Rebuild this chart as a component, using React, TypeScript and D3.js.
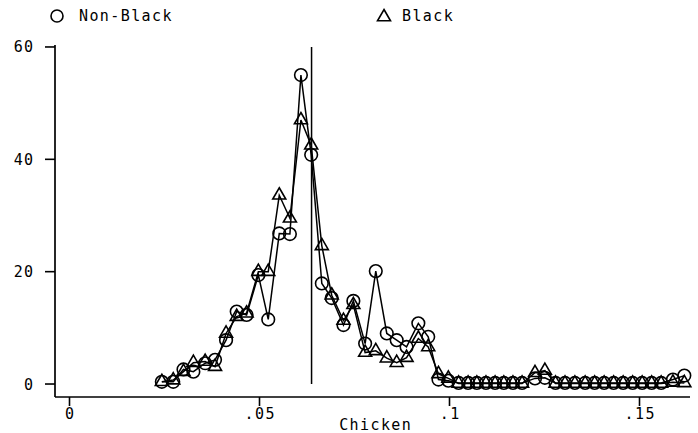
import React from "react";
import * as d3 from "d3";

// Share of chicken in the diet (x) and the percentage in each group (y)
const chicken = [
  0.0243, 0.0273, 0.03, 0.0326, 0.0357, 0.0383, 0.0412, 0.044, 0.0466, 0.0497,
  0.0523, 0.0552, 0.058, 0.0609, 0.0636, 0.0664, 0.069, 0.0721, 0.0747, 0.0778,
  0.0806, 0.0835, 0.0861, 0.0887, 0.0918, 0.0944, 0.0971, 0.0997, 0.1024, 0.1049,
  0.1072, 0.1096, 0.112, 0.1143, 0.1167, 0.1191, 0.1225, 0.1251, 0.1279, 0.1304,
  0.133, 0.1357, 0.1382, 0.1407, 0.1432, 0.1457, 0.1482, 0.1507, 0.1532, 0.1557,
  0.1588, 0.1618,
];

const nonBlack = [
  0.4, 0.4, 2.6, 2.2, 3.7, 4.3, 7.8, 12.9, 12.3, 19.4,
  11.5, 26.8, 26.7, 55.0, 40.8, 17.9, 15.3, 10.5, 14.8, 7.2,
  20.1, 9.0, 7.8, 6.6, 10.8, 8.4, 0.8, 0.6, 0.2, 0.2,
  0.2, 0.2, 0.2, 0.2, 0.2, 0.2, 1.0, 1.1, 0.2, 0.2,
  0.2, 0.2, 0.2, 0.2, 0.2, 0.2, 0.2, 0.2, 0.2, 0.2,
  0.8, 1.5,
];

const black = [
  0.4, 0.7, 2.2, 3.8, 4.0, 3.1, 9.0, 12.0, 12.6, 20.0,
  20.0, 33.6, 29.5, 47.0, 42.5, 24.6, 15.8, 11.3, 14.1, 5.6,
  5.9, 4.6, 3.8, 4.7, 8.1, 6.6, 1.8, 1.0, 0.1, 0.1,
  0.1, 0.1, 0.1, 0.1, 0.1, 0.1, 2.0, 2.4, 0.1, 0.1,
  0.1, 0.1, 0.1, 0.1, 0.1, 0.1, 0.1, 0.1, 0.1, 0.1,
  0.3, 0.2,
];

const xTicks = [0, 0.05, 0.1, 0.15];
const xTickLabels = ["0", ".05", ".1", ".15"];
const yTicks = [0, 20, 40, 60];
const referenceX = 0.0637;
const seriesNames = ["Non-Black", "Black"];
const xTitle = "Chicken";

const W = 698;
const H = 433;
const FONT = "'DejaVu Sans Mono', 'Liberation Mono', monospace";

const x = d3.scaleLinear().domain([-0.003816, 0.16329]).range([55, 690]);
const y = d3.scaleLinear().domain([-2.31, 60.35]).range([397, 45]);

const R = 6.3;
const triPath = (s: number) => {
  const h = (s * Math.sqrt(3)) / 2;
  return `M0,${-(2 * h) / 3}L${s / 2},${h / 3}L${-s / 2},${h / 3}Z`;
};
const TRI = triPath(13);

export default function App() {
  const line = d3
    .line<number>()
    .x((_, i) => x(chicken[i]))
    .y((d) => y(d));

  const textStyle = {
    fontFamily: FONT,
    fontSize: 15,
    letterSpacing: 1.4,
    fill: "#000",
  } as React.CSSProperties;

  return (
    <svg
      width={W}
      height={H}
      style={{ position: "absolute", left: 0, top: 0, background: "#fff" }}
    >
      <rect width={W} height={H} fill="#fff" />

      {/* legend */}
      <circle cx={57} cy={16} r={6} fill="none" stroke="#000" strokeWidth={1.6} />
      <text x={79} y={21} style={textStyle}>
        {seriesNames[0]}
      </text>
      <path d={TRI} transform="translate(384,17)" fill="none" stroke="#000" strokeWidth={1.6} />
      <text x={402} y={21} style={textStyle}>
        {seriesNames[1]}
      </text>

      {/* axes */}
      <line x1={55} x2={55} y1={y.range()[1]} y2={397} stroke="#000" strokeWidth={1.7} />
      <line x1={55} x2={x.range()[1]} y1={397} y2={397} stroke="#000" strokeWidth={1.7} />
      {yTicks.map((t) => (
        <g key={t}>
          <line x1={45} x2={55} y1={y(t)} y2={y(t)} stroke="#000" strokeWidth={1.6} />
          <text x={34.5} y={y(t) + 5.5} textAnchor="end" style={textStyle}>
            {t}
          </text>
        </g>
      ))}
      {xTicks.map((t, i) => (
        <g key={t}>
          <line x1={x(t)} x2={x(t)} y1={397} y2={406} stroke="#000" strokeWidth={1.6} />
          <text x={x(t) + 0.7} y={419} textAnchor="middle" style={textStyle}>
            {xTickLabels[i]}
          </text>
        </g>
      ))}
      <text x={375.7} y={430} textAnchor="middle" style={textStyle}>
        {xTitle}
      </text>

      {/* reference line */}
      <line
        x1={x(referenceX)}
        x2={x(referenceX)}
        y1={y(60)}
        y2={y(0)}
        stroke="#000"
        strokeWidth={1.5}
      />

      {/* Non-Black series */}
      <path d={line(nonBlack) ?? ""} fill="none" stroke="#000" strokeWidth={1.5} />
      {nonBlack.map((v, i) => (
        <circle
          key={"c" + i}
          cx={x(chicken[i])}
          cy={y(v)}
          r={R}
          fill="none"
          stroke="#000"
          strokeWidth={1.6}
        />
      ))}

      {/* Black series */}
      <path d={line(black) ?? ""} fill="none" stroke="#000" strokeWidth={1.5} />
      {black.map((v, i) => (
        <path
          key={"t" + i}
          d={TRI}
          transform={`translate(${x(chicken[i])},${y(v)})`}
          fill="none"
          stroke="#000"
          strokeWidth={1.6}
        />
      ))}
    </svg>
  );
}
